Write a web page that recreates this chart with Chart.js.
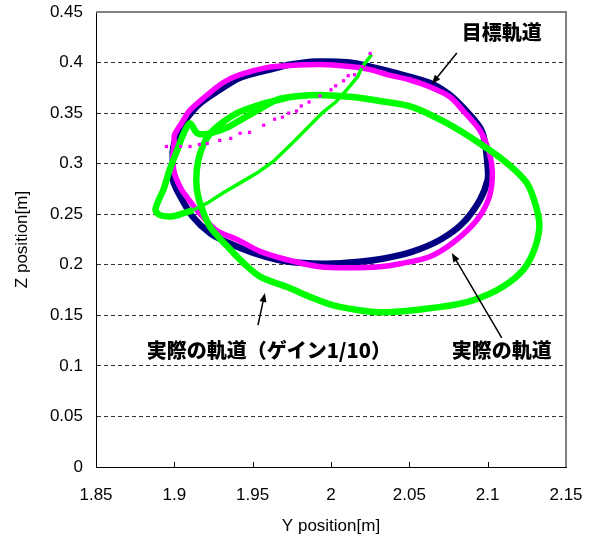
<!DOCTYPE html>
<html><head><meta charset="utf-8">
<script src="https://cdn.jsdelivr.net/npm/chart.js@4.4.0/dist/chart.umd.min.js"></script>
<style>html,body{margin:0;padding:0;background:#fff;}</style>
</head><body>
<canvas id="c" width="597" height="539"></canvas>
<script>
// ---- data (Y position [m], Z position [m]) ----
const targetY = [1.899,1.902,1.908,1.916,1.929,1.942,1.961,1.974,1.991,2.012,2.025,2.038,2.063,2.075,2.084,2.095,2.098,2.100,2.100,2.095,2.084,2.070,2.052,2.033,2.018,1.997,1.980,1.966,1.950,1.934,1.923,1.912,1.904,1.899,1.899,1.899];
const targetZ = [0.314,0.331,0.345,0.359,0.373,0.385,0.393,0.398,0.401,0.400,0.396,0.391,0.380,0.369,0.356,0.336,0.323,0.297,0.284,0.264,0.241,0.225,0.213,0.206,0.203,0.201,0.202,0.205,0.212,0.222,0.231,0.247,0.267,0.284,0.304,0.314];

const actualTailY = [2.025,2.020,2.015,2.011,2.008,2.003,2.000,1.993,1.986,1.981,1.978,1.973,1.969,1.964,1.957,1.948,1.942,1.936,1.929,1.921,1.916,1.910,1.904,1.899,1.895];
const actualTailZ = [0.409,0.396,0.388,0.387,0.382,0.377,0.373,0.367,0.361,0.357,0.352,0.350,0.346,0.344,0.338,0.331,0.330,0.325,0.323,0.320,0.319,0.317,0.317,0.318,0.317];

const actualY = [1.900,1.900,1.905,1.910,1.921,1.931,1.942,1.959,1.974,1.993,2.012,2.025,2.036,2.050,2.063,2.076,2.084,2.095,2.101,2.103,2.101,2.093,2.078,2.063,2.044,2.031,2.012,1.993,1.972,1.955,1.940,1.927,1.916,1.908,1.904,1.900,1.899,1.900];
const actualZ = [0.319,0.328,0.341,0.353,0.368,0.380,0.388,0.395,0.397,0.398,0.396,0.393,0.388,0.383,0.376,0.366,0.353,0.333,0.311,0.291,0.267,0.244,0.222,0.208,0.201,0.198,0.197,0.198,0.205,0.213,0.225,0.234,0.251,0.267,0.276,0.291,0.307,0.319];

const gainStartY = [2.026,2.020,2.017,2.010,2.003,1.995,1.991,1.977,1.963,1.953,1.942,1.931,1.921,1.912];
const gainStartZ = [0.408,0.396,0.386,0.373,0.361,0.351,0.345,0.323,0.302,0.291,0.281,0.271,0.261,0.254];

const gainY = [1.912,1.906,1.899,1.891,1.888,1.890,1.893,1.897,1.902,1.906,1.910,1.914,1.918,1.925,1.934,1.942,1.950,1.959,1.967,1.980,1.993,2.014,2.031,2.052,2.074,2.095,2.112,2.125,2.131,2.133,2.129,2.121,2.106,2.084,2.052,2.031,2.018,2.001,1.987,1.972,1.955,1.944,1.934,1.923,1.918,1.915,1.914,1.915,1.918,1.923,1.931,1.940,1.950,1.961,1.972];
const gainZ = [0.254,0.251,0.248,0.249,0.254,0.264,0.274,0.294,0.314,0.330,0.340,0.331,0.329,0.331,0.336,0.343,0.350,0.358,0.364,0.367,0.368,0.366,0.362,0.356,0.340,0.320,0.301,0.281,0.257,0.237,0.212,0.192,0.175,0.162,0.155,0.153,0.155,0.160,0.168,0.178,0.188,0.202,0.218,0.237,0.254,0.269,0.284,0.301,0.317,0.330,0.341,0.350,0.356,0.361,0.365];

const xTickValues = [1.85,1.9,1.95,2,2.05,2.1,2.15];
const xTickLabels = ['1.85','1.9','1.95','2','2.05','2.1','2.15'];
const yTickValues = [0,0.05,0.1,0.15,0.2,0.25,0.3,0.35,0.4,0.45];
const yTickLabels = ['0','0.05','0.1','0.15','0.2','0.25','0.3','0.35','0.4','0.45'];

const xTitle = 'Y position[m]';
const yTitle = 'Z position[m]';

// annotation texts, placed in data units
const notes = [
  {text:'目標軌道', x:2.1090, y:0.430, ax:2.0803, ay:0.4094, hx:2.0644, hy:0.3788},
  {text:'実際の軌道', x:2.1090, y:0.1157, ax:2.1090, ay:0.1276, hx:2.0771, hy:0.2116},
  {text:'実際の軌道（ゲイン1/10）', x:1.9603, y:0.1157, ax:1.9534, ay:0.1404, hx:1.9578, hy:0.1721}
];

const pts = (xs, ys) => xs.map((v,i)=>({x:v, y:ys[i]}));

Chart.defaults.font.family = '"Liberation Sans", Arial, sans-serif';
Chart.defaults.color = '#000';

const overlay = {
  id:'overlay',
  afterDraw(chart){
    const {ctx, chartArea:a, scales:{x,y}} = chart;
    ctx.save();
    // inward x ticks
    ctx.strokeStyle = '#000'; ctx.lineWidth = 1;
    xTickValues.forEach(v=>{
      const px = Math.round(x.getPixelForValue(v))+0.5;
      ctx.beginPath(); ctx.moveTo(px, a.bottom); ctx.lineTo(px, a.bottom-5); ctx.stroke();
    });
    // top and right frame
    ctx.strokeStyle = '#808080'; ctx.lineWidth = 2;
    ctx.beginPath();
    ctx.moveTo(a.left, a.top); ctx.lineTo(a.right, a.top); ctx.lineTo(a.right, a.bottom);
    ctx.stroke();
    // annotations
    ctx.fillStyle = '#000';
    ctx.font = '900 20px "Noto Sans CJK JP"';
    ctx.textAlign = 'center'; ctx.textBaseline = 'middle';
    notes.forEach(n=>{
      ctx.fillText(n.text, x.getPixelForValue(n.x), y.getPixelForValue(n.y));
      const x1 = x.getPixelForValue(n.ax), y1 = y.getPixelForValue(n.ay);
      const x2 = x.getPixelForValue(n.hx), y2 = y.getPixelForValue(n.hy);
      const ang = Math.atan2(y2-y1, x2-x1);
      ctx.strokeStyle = '#000'; ctx.lineWidth = 1.5;
      ctx.beginPath(); ctx.moveTo(x1,y1); ctx.lineTo(x2 - 6*Math.cos(ang), y2 - 6*Math.sin(ang)); ctx.stroke();
      ctx.beginPath();
      ctx.moveTo(x2,y2);
      ctx.lineTo(x2 - 9*Math.cos(ang) + 3.5*Math.sin(ang), y2 - 9*Math.sin(ang) - 3.5*Math.cos(ang));
      ctx.lineTo(x2 - 9*Math.cos(ang) - 3.5*Math.sin(ang), y2 - 9*Math.sin(ang) + 3.5*Math.cos(ang));
      ctx.closePath(); ctx.fill();
    });
    ctx.restore();
  }
};

new Chart(document.getElementById('c'), {
  type:'scatter',
  data:{
    datasets:[
      {label:'target', data:pts(targetY,targetZ), showLine:true, borderColor:'#000080', backgroundColor:'#000080', borderWidth:6.5, pointRadius:0, tension:0.3, order:5},
      {label:'actual', data:pts(actualY,actualZ), showLine:true, borderColor:'#FF00FF', backgroundColor:'#FF00FF', borderWidth:5.5, pointRadius:0, tension:0.3, order:4},
      {label:'gain', data:pts(gainY,gainZ), showLine:true, borderColor:'#00FF00', backgroundColor:'#00FF00', borderWidth:6.5, pointRadius:0, tension:0.3, order:3},
      {label:'gainStart', data:pts(gainStartY,gainStartZ), showLine:true, borderColor:'#00FF00', backgroundColor:'#00FF00', borderWidth:3.5, pointRadius:0, tension:0, order:2},
      {label:'actualTail', data:pts(actualTailY,actualTailZ), showLine:false, backgroundColor:'#FF00FF', borderWidth:0, pointRadius:2.3, pointStyle:'rect', order:1}
    ]
  },
  options:{
    responsive:false, animation:false,
    layout:{padding:{left:0,right:31,top:12,bottom:0}},
    plugins:{legend:{display:false}, tooltip:{enabled:false}},
    scales:{
      x:{
        type:'linear', min:1.85, max:2.15,
        afterBuildTicks:(s)=>{ s.ticks = xTickValues.map(v=>({value:v})); },
        afterFit:(s)=>{ s.height = 72; s.paddingLeft = 0; s.paddingRight = 0; },
        ticks:{padding:18, maxRotation:0, autoSkip:false, font:{size:17}, callback:(v,i)=>xTickLabels[i]},
        grid:{display:false, drawTicks:false},
        border:{display:true, color:'#000', width:1},
        title:{display:true, text:xTitle, font:{size:17}, padding:{top:0,bottom:2}}
      },
      y:{
        type:'linear', min:0, max:0.45,
        afterBuildTicks:(s)=>{ s.ticks = yTickValues.map(v=>({value:v})); },
        afterFit:(s)=>{ s.width = 96; s.paddingTop = 0; s.paddingBottom = 0; },
        ticks:{padding:13, autoSkip:false, font:{size:17}, callback:(v,i)=>yTickLabels[i]},
        grid:{drawTicks:false, lineWidth:1,
          color:(c)=> (c.tick && (c.tick.value===0 || c.tick.value===0.45)) ? 'rgba(0,0,0,0)' : '#333'},
        border:{display:true, color:'#000', width:1, dash:[4,3]},
        title:{display:true, text:yTitle, font:{size:17}, padding:{top:12,bottom:0}}
      }
    }
  },
  plugins:[overlay]
});
</script>
</body></html>
